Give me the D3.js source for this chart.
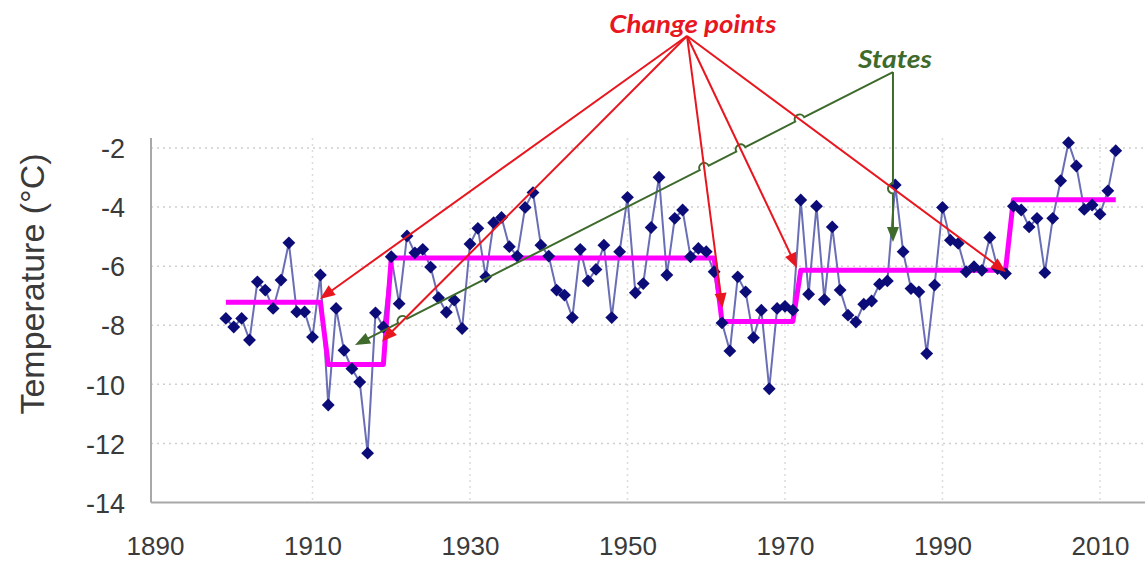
<!DOCTYPE html>
<html><head><meta charset="utf-8">
<script src="https://cdn.jsdelivr.net/npm/d3@7"></script>
<style>body{margin:0;background:#fff}svg{display:block}</style>
</head><body>
<svg id="chart" width="1145" height="561"></svg>
<script>
// ---- data ----
const firstYear = 1899;
const temps = [
 -7.77,-8.06,-7.77,-8.50,-6.53,-6.81,-7.43,-6.47,-5.21,-7.55,
 -7.55,-8.40,-6.30,-10.70,-7.43,-8.85,-9.47,-9.92,-12.33,-7.58,
 -8.06,-5.68,-7.27,-4.98,-5.55,-5.43,-6.03,-7.07,-7.56,-7.15,
 -8.11,-5.25,-4.72,-6.36,-4.53,-4.35,-5.34,-5.66,-4.01,-3.51,
 -5.29,-5.66,-6.81,-6.98,-7.74,-5.43,-6.50,-6.11,-5.29,-7.74,
 -5.51,-3.67,-6.90,-6.59,-4.69,-2.99,-6.30,-4.38,-4.10,-5.68,
 -5.40,-5.51,-6.19,-7.92,-8.87,-6.36,-6.87,-8.42,-7.49,-10.15,
 -7.43,-7.36,-7.49,-3.76,-6.95,-3.97,-7.13,-4.67,-6.81,-7.66,
 -7.89,-7.29,-7.18,-6.61,-6.50,-3.25,-5.51,-6.76,-6.87,-8.96,
 -6.64,-4.01,-5.12,-5.23,-6.19,-6.02,-6.14,-5.03,-6.08,-6.25,
 -3.97,-4.10,-4.67,-4.38,-6.22,-4.38,-3.11,-1.82,-2.61,-4.08,
 -3.93,-4.24,-3.45,-2.09
];
const years = temps.map((_, i) => firstYear + i);
// state segments (start year, end year, mean level)
const stateStart = [1899, 1912, 1920, 1962, 1972, 1999];
const stateEnd   = [1911, 1919, 1961, 1971, 1998, 2012];
const stateLevel = [-7.22, -9.33, -5.72, -7.87, -6.14, -3.75];
const xTicks = [1890, 1910, 1930, 1950, 1970, 1990, 2010];
const yTicks = [-14, -12, -10, -8, -6, -4, -2];
// annotations (data coordinates)
const changeOrigin = [1957.56, 1.79];
const changeTips = [[1910.95, -7.11], [1918.83, -8.55], [1962.06, -7.42], [1971.52, -6.06], [1998.06, -6.20]];
const stateOrigin = [1983.71, 0.57];
const stateTips = [[1983.71, -5.18], [1915.4, -8.67]];
const changeLabel = {text: "Change points", year: 1958.3, value: 1.89};
const stateLabel = {text: "States", year: 1983.97, value: 0.71};

// ---- drawing ----
const svg = d3.select("#chart");
const x = d3.scaleLinear().domain([1890, 2010]).range([155, 1100]);
const y = d3.scaleLinear().domain([-14, -2]).range([502.5, 148]);
const pLeft = 151, pRight = 1145, pTop = 138, pBottom = 502.5;
const tickFont = "'Liberation Sans', Arial, sans-serif";

// grid
const grid = svg.append("g");
grid.selectAll("line.h").data(yTicks.filter(d => d > -14)).join("line")
  .attr("x1", pLeft).attr("x2", pRight).attr("y1", d => y(d)).attr("y2", d => y(d))
  .attr("stroke", "#cfcfcf").attr("stroke-width", 1.5).attr("stroke-dasharray", "2,4");
grid.selectAll("line.v").data(xTicks.filter(d => d > 1890)).join("line")
  .attr("x1", d => x(d)).attr("x2", d => x(d)).attr("y1", pTop).attr("y2", pBottom)
  .attr("stroke", "#dcdcdc").attr("stroke-width", 1.5).attr("stroke-dasharray", "2,4");

// axes
const yAxis = d3.axisLeft(y).tickValues(yTicks).tickSize(0).tickPadding(0).tickFormat(d => String(d));
const gy = svg.append("g").attr("transform", `translate(${pLeft},0)`).call(yAxis);
gy.select(".domain").remove();
gy.selectAll("text").attr("x", -26).attr("dy", "0.36em")
  .style("font-family", tickFont).style("font-size", "27px").attr("fill", "#3a3a3a");
const xAxis = d3.axisBottom(x).tickValues(xTicks).tickSize(0).tickPadding(0).tickFormat(d => String(d));
const gx = svg.append("g").attr("transform", `translate(0,${pBottom})`).call(xAxis);
gx.select(".domain").remove();
gx.selectAll("text").attr("y", 52).attr("dy", 0)
  .style("font-family", tickFont).style("font-size", "26px").attr("fill", "#3a3a3a");
svg.append("line").attr("x1", pLeft).attr("x2", pLeft).attr("y1", pTop).attr("y2", pBottom)
  .attr("stroke", "#a8a8a8").attr("stroke-width", 2);
svg.append("line").attr("x1", pLeft).attr("x2", pRight).attr("y1", pBottom).attr("y2", pBottom)
  .attr("stroke", "#a8a8a8").attr("stroke-width", 2);

svg.append("text").attr("transform", "translate(44,284) rotate(-90)")
  .attr("text-anchor", "middle")
  .style("font-family", tickFont).style("font-size", "34px").attr("fill", "#3a3a3a")
  .text("Temperature (°C)");

// data line
const pts = years.map((yr, i) => [yr, temps[i]]);
svg.append("path").attr("d", d3.line().x(d => x(d[0])).y(d => y(d[1]))(pts))
  .attr("fill", "none").attr("stroke", "#6a6eb4").attr("stroke-width", 2);

// state step line (per-year level)
const statePts = [];
stateStart.forEach((s, i) => { for (let yr = s; yr <= stateEnd[i]; yr++) statePts.push([yr, stateLevel[i]]); });
svg.append("path").attr("d", d3.line().x(d => x(d[0])).y(d => y(d[1]))(statePts))
  .attr("fill", "none").attr("stroke", "#ff00ff").attr("stroke-width", 5).attr("stroke-linejoin", "round");

// markers
svg.append("g").selectAll("path").data(pts).join("path")
  .attr("d", d3.symbol().type(d3.symbolDiamond2).size(105))
  .attr("transform", d => `translate(${x(d[0])},${y(d[1])})`)
  .attr("fill", "#0c0c78");

// annotations
function head(x0, y0, x1, y1, len, w) {
  const dx = x1 - x0, dy = y1 - y0, L = Math.hypot(dx, dy), ux = dx / L, uy = dy / L;
  const bx = x1 - ux * len, by = y1 - uy * len;
  return `M${x1},${y1}L${bx - uy * w / 2},${by + ux * w / 2}L${bx + uy * w / 2},${by - ux * w / 2}Z`;
}
const red = "#e8161e", green = "#3e6a2c";
const rx0 = x(changeOrigin[0]), ry0 = y(changeOrigin[1]);
const redLines = changeTips.map(t => [rx0, ry0, x(t[0]), y(t[1])]);
const ann = svg.append("g");

// green lines with hops over red lines
const sx0 = x(stateOrigin[0]), sy0 = y(stateOrigin[1]);
stateTips.forEach(t => {
  const sx1 = x(t[0]), sy1 = y(t[1]);
  const dx = sx1 - sx0, dy = sy1 - sy0, L = Math.hypot(dx, dy), ux = dx / L, uy = dy / L;
  const hits = [];
  redLines.forEach(r => {
    const ex = r[2] - r[0], ey = r[3] - r[1];
    const den = dx * ey - dy * ex;
    if (Math.abs(den) < 1e-9) return;
    const tt = ((r[0] - sx0) * ey - (r[1] - sy0) * ex) / den;
    const uu = ((r[0] - sx0) * dy - (r[1] - sy0) * dx) / den;
    if (tt > 0.02 && tt < 0.97 && uu > 0 && uu < 1) hits.push(tt * L);
  });
  hits.sort((a, b) => a - b);
  const hr = 5;
  const endLen = L - 12;
  let d = `M${sx0},${sy0}`;
  hits.forEach(s => {
    d += `L${sx0 + ux * (s - hr)},${sy0 + uy * (s - hr)}`;
    d += `A${hr},${hr} 0 0 0 ${sx0 + ux * (s + hr)},${sy0 + uy * (s + hr)}`;
  });
  d += `L${sx0 + ux * endLen},${sy0 + uy * endLen}`;
  ann.append("path").attr("d", d).attr("fill", "none").attr("stroke", green).attr("stroke-width", 2);
  ann.append("path").attr("d", head(sx0, sy0, sx1, sy1, 15, 12)).attr("fill", green);
});

redLines.forEach(r => {
  const dx = r[2] - r[0], dy = r[3] - r[1], L = Math.hypot(dx, dy);
  const k = (L - 12) / L;
  ann.append("line").attr("x1", r[0]).attr("y1", r[1]).attr("x2", r[0] + dx * k).attr("y2", r[1] + dy * k)
    .attr("stroke", red).attr("stroke-width", 2);
  ann.append("path").attr("d", head(r[0], r[1], r[2], r[3], 15, 12)).attr("fill", red);
});

ann.append("text").attr("x", x(changeLabel.year)).attr("y", y(changeLabel.value))
  .attr("text-anchor", "middle").attr("textLength", 167).attr("lengthAdjust", "spacingAndGlyphs")
  .style("font-family", "Lato, 'Open Sans', sans-serif").style("font-weight", "bold").style("font-style", "italic")
  .style("font-size", "24px").attr("fill", red).text(changeLabel.text);
ann.append("text").attr("x", x(stateLabel.year)).attr("y", y(stateLabel.value))
  .attr("text-anchor", "middle").attr("textLength", 74).attr("lengthAdjust", "spacingAndGlyphs")
  .style("font-family", "Lato, 'Open Sans', sans-serif").style("font-weight", "bold").style("font-style", "italic")
  .style("font-size", "24px").attr("fill", green).text(stateLabel.text);
</script>
</body></html>
